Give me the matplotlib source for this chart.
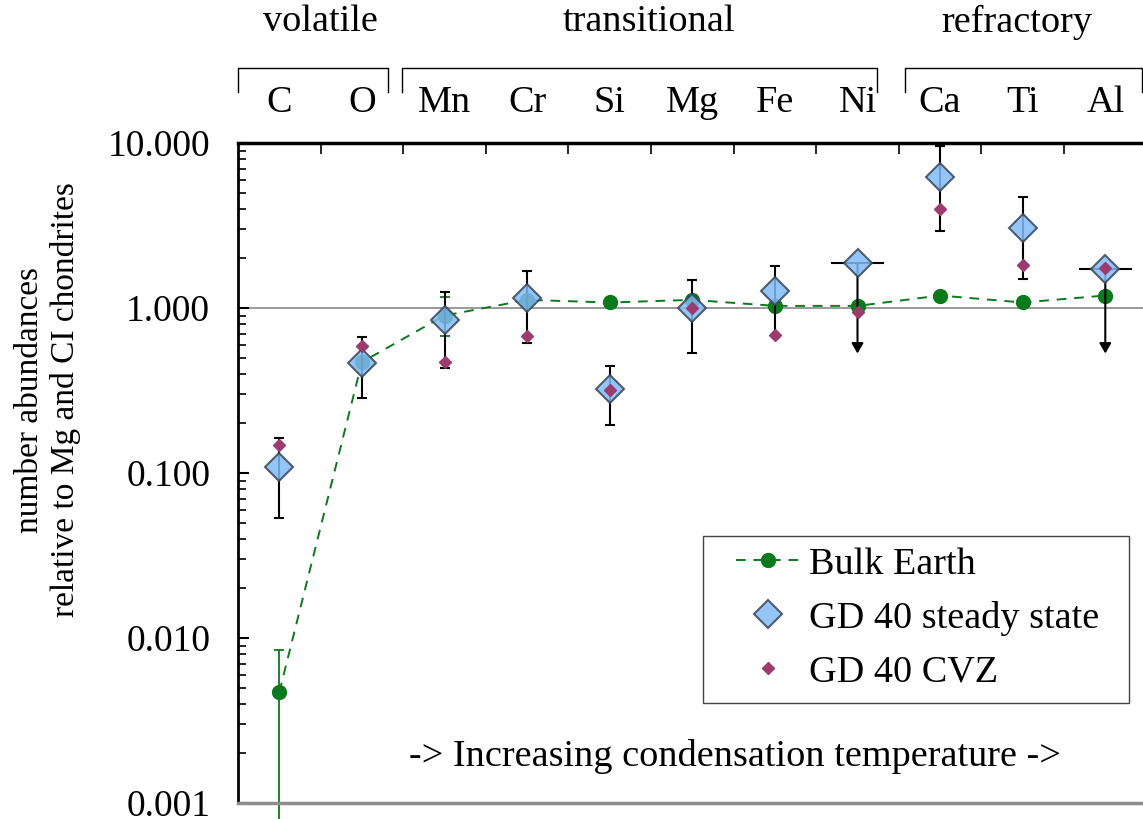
import numpy as np
import matplotlib
matplotlib.use("Agg")
import matplotlib.pyplot as plt
from matplotlib.transforms import blended_transform_factory
from matplotlib.lines import Line2D
from matplotlib.patches import Rectangle

plt.rcParams["font.family"] = ["Liberation Serif", "DejaVu Serif"]

elements = ["C", "O", "Mn", "Cr", "Si", "Mg", "Fe", "Ni", "Ca", "Ti", "Al"]
groups = ["volatile", "transitional", "refractory"]

bulk_earth = [0.0047, 0.47, 0.90, 1.12, 1.08, 1.12, 1.03, 1.03, 1.19, 1.08, 1.19]
bulk_lo = [0.0006, None, 0.68, None, None, None, None, None, None, None, None]
bulk_hi = [0.0085, None, 1.17, None, None, None, None, None, None, None, None]

gd40_steady = [0.109, 0.466, 0.846, 1.15, 0.323, 1.00, 1.27, 1.87, 6.25, 3.07, 1.72]
gd40_lo = [0.053, 0.284, 0.43, 0.61, 0.195, 0.53, 0.69, None, 2.94, 1.50, None]
gd40_hi = [0.164, 0.664, 1.255, 1.68, 0.447, 1.48, 1.80, None, 9.6, 4.69, None]
# upper limits (Ni, Al): arrow drawn down to this value
gd40_limit_to = [None, None, None, None, None, None, None, 0.53, None, None, 0.53]

gd40_cvz = [0.148, 0.59, 0.469, 0.68, 0.32, 1.00, 0.69, 0.95, 3.98, 1.82, 1.74]

GREEN = "#0b7a1c"
BLUE = "#80bbf7"
BLUE_EDGE = "#3a4656"
MAGENTA = "#9e3b6e"
FS = 27.5

W, H = 1143, 819
fig = plt.figure(figsize=(W / 100, H / 100), dpi=100)
ax = fig.add_axes([238 / W, 16 / H, 908.6 / W, 660 / H])

x = np.arange(len(elements))

ax.set_yscale("log")
ax.set_ylim(0.001, 10)
ax.set_xlim(-0.5, 10.5)

ax.axhline(1.0, color="#9a9a9a", lw=1.4, zorder=1)

# bulk earth
ax.plot(x, bulk_earth, color=GREEN, ls=(0, (5, 4)), lw=1.4, marker="o", ms=10,
        zorder=2, label="Bulk Earth")
for i, v in enumerate(bulk_earth):
    if bulk_lo[i] is None:
        continue
    ax.errorbar(x[i], v, yerr=[[v - bulk_lo[i]], [bulk_hi[i] - v]], fmt="none",
                ecolor=GREEN, elinewidth=1.3, capsize=3.5, capthick=1.3,
                zorder=2.5, clip_on=False)

# GD 40 steady state error bars
for i, v in enumerate(gd40_steady):
    if gd40_lo[i] is not None:
        ax.errorbar(x[i], v, yerr=[[v - gd40_lo[i]], [gd40_hi[i] - v]], fmt="none",
                    ecolor="black", elinewidth=1.5, capsize=3.5, capthick=1.5, zorder=3)
    elif gd40_limit_to[i] is not None:
        ax.plot([x[i] - 0.31, x[i] + 0.31], [v, v], color="black", lw=1.5, zorder=3)
        ax.annotate("", xy=(x[i], gd40_limit_to[i]), xytext=(x[i], v),
                    arrowprops=dict(arrowstyle="-|>,head_length=0.6,head_width=0.35",
                                    color="black", lw=1.5, shrinkA=0, shrinkB=0),
                    zorder=3)

ax.plot(x, gd40_steady, ls="none", marker="D", ms=14, mfc=BLUE, mec=BLUE_EDGE,
        mew=1.5, alpha=0.85, zorder=4, label="GD 40 steady state")
ax.plot(x, gd40_cvz, ls="none", marker="D", ms=6.5, mfc=MAGENTA, mec=MAGENTA,
        zorder=5, label="GD 40 CVZ")

# axes styling
ax.set_yticks([0.001, 0.01, 0.1, 1, 10])
ax.set_yticklabels(["0.001", "0.010", "0.100", "1.000", "10.000"])
ax.tick_params(axis="y", which="major", direction="in", length=8, width=1.5,
               labelsize=27, pad=20)
ax.tick_params(axis="y", which="minor", direction="in", length=6, width=1.2)
ax.set_xticks(x[:-1] + 0.5)
ax.tick_params(axis="x", which="both", direction="in", top=True, bottom=False,
               labeltop=False, labelbottom=False, length=8, width=1.2)
ax.xaxis.set_minor_locator(matplotlib.ticker.NullLocator())

ax.spines["top"].set_linewidth(2.5)
ax.spines["left"].set_linewidth(2)
ax.spines["bottom"].set_linewidth(2.5)
ax.spines["bottom"].set_color("#8c8c8c")
ax.spines["right"].set_visible(False)

fig.text(48 / W, 1 - 400 / H, "number abundances\nrelative to Mg and CI chondrites",
         rotation=90, ha="center", va="center", fontsize=24, linespacing=1.2)

ax.text(0.547, 0.07, "-> Increasing condensation temperature ->",
        transform=ax.transAxes, ha="center", va="center", fontsize=FS)

# element labels and group brackets above the axes
trans = blended_transform_factory(ax.transData, fig.transFigure)
for xi, name in zip(x, elements):
    ax.text(xi, 1 - 103 / H, name, transform=trans, ha="center", va="center", fontsize=FS)

bracket_spans = [(-0.5, 1.32), (1.48, 7.24), (7.58, 10.45)]
group_label_x = [0.5, 4.47, 8.93]
for (a, b), gx, name in zip(bracket_spans, group_label_x, groups):
    ytop, ybot = 1 - 68 / H, 1 - 92 / H
    ax.add_line(Line2D([a, a, b, b], [ybot, ytop, ytop, ybot], transform=trans,
                       color="black", lw=1.0, clip_on=False))
    ax.text(gx, 1 - 22 / H, name, transform=trans, ha="center",
            va="center", fontsize=FS)

# legend without its own frame, boxed separately to match the wide side padding
leg = ax.legend(loc="upper left", bbox_to_anchor=(736 / W, 1 - 547 / H),
                bbox_transform=fig.transFigure, fontsize=FS, frameon=False,
                handlelength=1.7, handletextpad=0.2, labelspacing=0.5,
                borderpad=0, borderaxespad=0)
fig.patches.append(Rectangle((703 / W, 1 - 703 / H), (1129 - 703) / W, (703 - 536) / H,
                             transform=fig.transFigure, fill=False,
                             edgecolor="#444444", lw=1.0))

fig.savefig("out.png", dpi=100)
